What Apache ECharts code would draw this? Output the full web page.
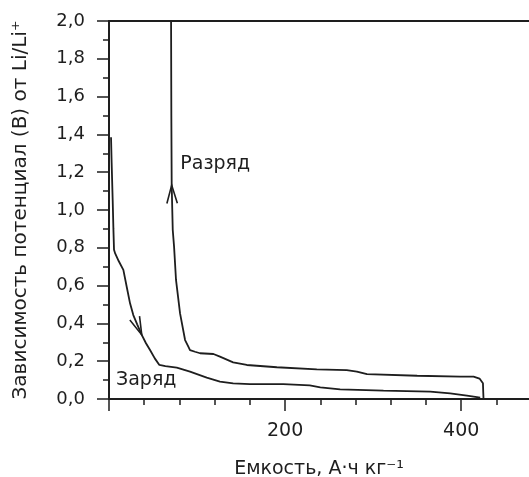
<!DOCTYPE html>
<html>
<head>
<meta charset="utf-8">
<script src="https://cdn.jsdelivr.net/npm/echarts@6/dist/echarts.min.js"></script>
<style>
html,body{margin:0;padding:0;background:#fff;}
#chart{width:529px;height:477px;}
</style>
</head>
<body>
<div id="chart"></div>
<script>
// ---- data ----
const capCharge = [2.3, 3.0, 4.2, 5.0, 5.7, 7.0, 11, 16.3, 20.1, 23.9, 27.6, 32, 37.2, 42, 46.6, 52, 57.2, 64, 77, 92, 111, 126, 141, 160, 198, 228, 240, 262.5, 311.7, 364.8, 387.5, 406.5, 421.6];
const vCharge   = [1.385, 1.25, 1.05, 0.9, 0.79, 0.77, 0.73, 0.683, 0.594, 0.506, 0.444, 0.395, 0.339, 0.295, 0.259, 0.215, 0.18, 0.174, 0.166, 0.145, 0.113, 0.092, 0.083, 0.079, 0.079, 0.072, 0.062, 0.051, 0.044, 0.039, 0.030, 0.018, 0.007];
const capDischarge = [425.3, 425, 424.7, 420.8, 414, 399, 350, 293, 281.5, 270, 236, 190.6, 156.5, 141, 126, 118.6, 103.4, 97.7, 92, 90.1, 86.4, 80.7, 76.1, 73.9, 72.4, 71.2, 70.8, 70.5];
const vDischarge   = [0.005, 0.04, 0.083, 0.108, 0.118, 0.118, 0.123, 0.132, 0.145, 0.153, 0.157, 0.168, 0.18, 0.194, 0.224, 0.238, 0.242, 0.25, 0.259, 0.277, 0.312, 0.453, 0.63, 0.806, 0.894, 1.132, 1.5, 2.0];
// arrows: [tipX, tipY, fromX, fromY]
const chargeArrow = [37.2, 0.339, 20, 0.53];
const dischargeArrow = [71.2, 1.132, 72.4, 0.894];
// annotations: [x, y, text]
const annotations = [[81, 1.245, 'Разряд'], [8, 0.1, 'Заряд']];
const xMajorTicks = [0, 200, 400];
const xTickLabels = [200, 400];
const xMinorTicks = [40, 80, 120, 160, 240, 280, 320, 360, 440];
const xMin = 0, xMax = 477;
const yMin = 0, yMax = 2, yStep = 0.2;
const yTitle = 'Зависимость потенциал (В) от Li/Li⁺';
const xTitle = 'Емкость, А·ч кг⁻¹';

// ---- chart ----
const INK = '#1e1e1e';
const FONT = 'DejaVu Sans';
const zip = (a, b) => a.map((v, i) => [v, b[i]]);
const chart = echarts.init(document.getElementById('chart'), null, {renderer: 'canvas'});

const baseX = {
  type: 'value', min: xMin, max: xMax, splitLine: {show: false}
};

chart.setOption({
  animation: false,
  backgroundColor: '#fff',
  grid: {left: 109, top: 21, right: 0, bottom: 78, containLabel: false, outerBoundsMode: 'none'},
  xAxis: [
    Object.assign({}, baseX, {
      position: 'bottom',
      axisLine: {show: true, lineStyle: {color: INK, width: 2}},
      axisTick: {show: true, length: 12, customValues: xMajorTicks, lineStyle: {color: INK, width: 1.5}},
      axisLabel: {show: true, customValues: xTickLabels, margin: 23, color: INK, fontFamily: FONT, fontSize: 19},
      name: xTitle, nameLocation: 'middle', nameGap: 61,
      nameTextStyle: {color: INK, fontFamily: FONT, fontSize: 19}
    }),
    Object.assign({}, baseX, {
      position: 'bottom',
      axisLine: {show: false},
      axisTick: {show: true, length: 6, customValues: xMinorTicks, lineStyle: {color: INK, width: 1.5}},
      axisLabel: {show: false}
    }),
    Object.assign({}, baseX, {
      position: 'top',
      axisLine: {show: true, lineStyle: {color: INK, width: 2}},
      axisTick: {show: false},
      axisLabel: {show: false}
    })
  ],
  yAxis: {
    type: 'value', min: yMin, max: yMax, interval: yStep,
    axisLine: {show: true, lineStyle: {color: INK, width: 2}},
    axisTick: {show: true, length: 12, lineStyle: {color: INK, width: 1.5}},
    minorTick: {show: true, splitNumber: 2, length: 6, lineStyle: {color: INK, width: 1.5}},
    splitLine: {show: false},
    axisLabel: {margin: 24, color: INK, fontFamily: FONT, fontSize: 18,
      formatter: v => v.toFixed(1).replace('.', ',')},
    name: yTitle, nameLocation: 'middle', nameGap: 78,
    nameTextStyle: {color: INK, fontFamily: FONT, fontSize: 20}
  },
  series: [
    {type: 'line', xAxisIndex: 0, data: zip(capCharge, vCharge), showSymbol: false, symbol: 'none',
     lineStyle: {color: INK, width: 1.8}, z: 3},
    {type: 'line', xAxisIndex: 0, data: zip(capDischarge, vDischarge), showSymbol: false, symbol: 'none',
     lineStyle: {color: INK, width: 1.8}, z: 3},
    {type: 'custom', xAxisIndex: 0, data: [chargeArrow, dischargeArrow],
     encode: {x: [0, 2], y: [1, 3]},
     renderItem: function (params, api) {
       const tip = api.coord([api.value(0), api.value(1)]);
       const from = api.coord([api.value(2), api.value(3)]);
       const ang = Math.atan2(from[1] - tip[1], from[0] - tip[0]);
       const L = 19, half = 16 * Math.PI / 180;
       const w1 = [tip[0] + L * Math.cos(ang + half), tip[1] + L * Math.sin(ang + half)];
       const w2 = [tip[0] + L * Math.cos(ang - half), tip[1] + L * Math.sin(ang - half)];
       return {type: 'polyline', shape: {points: [w1, tip, w2]},
         style: {stroke: INK, lineWidth: 1.6, fill: null}};
     }, z: 4},
    {type: 'scatter', xAxisIndex: 0, data: annotations, symbolSize: 0, silent: true,
     itemStyle: {opacity: 1},
     label: {show: true, position: 'right', distance: 0, color: INK, opacity: 1, fontFamily: FONT, fontSize: 19,
       formatter: p => p.data[2]}, z: 5}
  ]
});
</script>
</body>
</html>
